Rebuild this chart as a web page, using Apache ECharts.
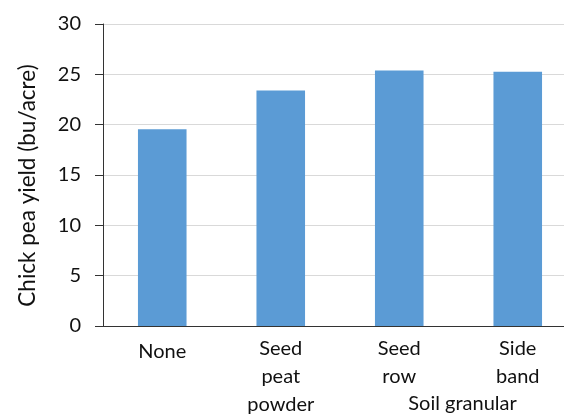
<!DOCTYPE html>
<html>
<head>
<meta charset="utf-8">
<script src="https://cdn.jsdelivr.net/npm/echarts@6/dist/echarts.min.js"></script>
<style>html,body{margin:0;padding:0;background:#fff}#c{width:564px;height:414px}</style>
</head>
<body>
<div id="c"></div>
<script>
var categories = ['None', 'Seed\npeat\npowder', 'Seed\nrow', 'Side\nband'];
var groupLabels = ['', 'Soil granular'];
var yieldValues = [19.55, 23.4, 25.39, 25.25];
var yTicks = {min: 0, max: 30, interval: 5};
var yName = 'Chick pea yield (bu/acre)';

var FONT = 'Lato';
var chart = echarts.init(document.getElementById('c'), null, {renderer: 'canvas'});
chart.setOption({
  animation: false,
  backgroundColor: '#fff',
  grid: {left: 103, top: 24, width: 474, height: 302, outerBoundsMode: 'none', containLabel: false},
  xAxis: [{
    type: 'category',
    data: categories,
    axisLine: {show: true, lineStyle: {color: '#333', width: 1}},
    axisTick: {show: false},
    axisLabel: {
      interval: 0, margin: 9, color: '#111', fontFamily: FONT, fontSize: 20, lineHeight: 28,
      formatter: function (v) { return v.indexOf('\n') < 0 ? '{s|' + v + '}' : v; },
      rich: {s: {fontFamily: FONT, fontSize: 20, lineHeight: 28, color: '#111', padding: [5, 0, 0, 0]}}
    }
  }, {
    type: 'category',
    data: groupLabels,
    position: 'bottom',
    axisLine: {show: false},
    axisTick: {show: false},
    splitLine: {show: false},
    axisLabel: {interval: 0, margin: 64, color: '#111', fontFamily: FONT, fontSize: 20, lineHeight: 28, padding: [0, 0, 0, 8]}
  }],
  yAxis: {
    type: 'value',
    min: yTicks.min, max: yTicks.max, interval: yTicks.interval,
    name: yName,
    nameLocation: 'middle',
    nameGap: 64,
    nameTextStyle: {fontFamily: FONT, fontSize: 22.5, color: '#111', padding: [0, 21, 0, 0]},
    axisLine: {show: true, lineStyle: {color: '#333', width: 1}},
    axisTick: {show: true, length: 8, lineStyle: {color: '#333'}},
    axisLabel: {margin: 22, color: '#111', fontFamily: FONT, fontSize: 20},
    splitLine: {show: true, lineStyle: {color: '#d9d9d9', width: 1}}
  },
  series: [{
    type: 'bar',
    data: yieldValues,
    barWidth: '41%',
    itemStyle: {color: '#5B9BD5'}
  }]
});
</script>
</body>
</html>
